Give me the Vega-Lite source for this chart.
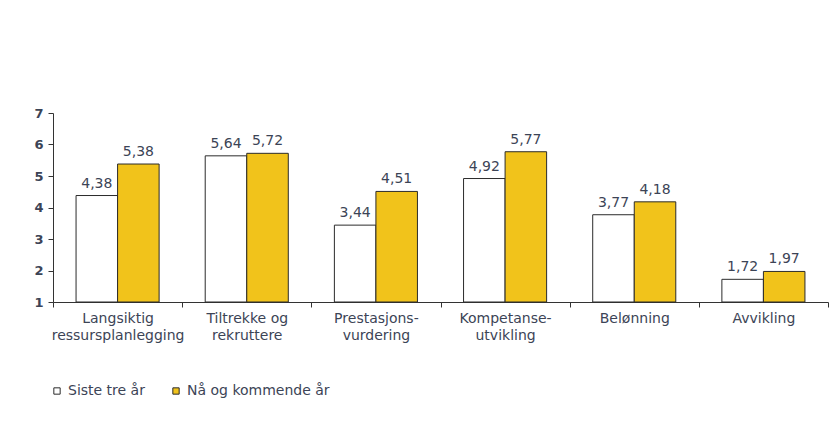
{
  "$schema": "https://vega.github.io/schema/vega-lite/v6.json",
  "width": 775,
  "height": 189,
  "autosize": {"type": "none"},
  "padding": {"left": 53, "top": 113, "right": 8, "bottom": 134},
  "background": "white",
  "config": {
    "locale": {"number": {"decimal": ",", "thousands": " ", "grouping": [3], "currency": ["", " kr"]}},
    "view": {"stroke": null},
    "font": "DejaVu Sans"
  },
  "data": {
    "values": [
      {"kategori": "Langsiktig|ressursplanlegging", "serie": "Siste tre år", "verdi": 4.38},
      {"kategori": "Langsiktig|ressursplanlegging", "serie": "Nå og kommende år", "verdi": 5.38},
      {"kategori": "Tiltrekke og|rekruttere", "serie": "Siste tre år", "verdi": 5.64},
      {"kategori": "Tiltrekke og|rekruttere", "serie": "Nå og kommende år", "verdi": 5.72},
      {"kategori": "Prestasjons-|vurdering", "serie": "Siste tre år", "verdi": 3.44},
      {"kategori": "Prestasjons-|vurdering", "serie": "Nå og kommende år", "verdi": 4.51},
      {"kategori": "Kompetanse-|utvikling", "serie": "Siste tre år", "verdi": 4.92},
      {"kategori": "Kompetanse-|utvikling", "serie": "Nå og kommende år", "verdi": 5.77},
      {"kategori": "Belønning", "serie": "Siste tre år", "verdi": 3.77},
      {"kategori": "Belønning", "serie": "Nå og kommende år", "verdi": 4.18},
      {"kategori": "Avvikling", "serie": "Siste tre år", "verdi": 1.72},
      {"kategori": "Avvikling", "serie": "Nå og kommende år", "verdi": 1.97}
    ]
  },
  "encoding": {
    "x": {
      "field": "kategori",
      "type": "nominal",
      "sort": null,
      "scale": {"paddingInner": 0, "paddingOuter": 0},
      "axis": {
        "title": null,
        "labelExpr": "split(datum.label, '|')",
        "labelAngle": 0,
        "tickBand": "extent",
        "labelFontSize": 14,
        "labelLineHeight": 17,
        "labelPadding": 4,
        "labelOverlap": false,
        "labelBound": false,
        "labelColor": "#3c4456",
        "tickSize": 5,
        "tickColor": "#333333",
        "domainColor": "#333333"
      }
    },
    "xOffset": {
      "field": "serie",
      "type": "nominal",
      "sort": ["Siste tre år", "Nå og kommende år"],
      "scale": {"paddingInner": 0, "paddingOuter": 0.555}
    },
    "y": {
      "field": "verdi",
      "type": "quantitative",
      "scale": {"domain": [1, 7], "nice": false, "zero": false},
      "axis": {
        "title": null,
        "values": [1, 2, 3, 4, 5, 6, 7],
        "grid": false,
        "labelFontSize": 13,
        "labelFontWeight": "bold",
        "labelColor": "#3c4456",
        "labelPadding": 5,
        "tickSize": 5,
        "tickColor": "#333333",
        "domainColor": "#333333"
      }
    }
  },
  "layer": [
    {
      "mark": {"type": "bar", "stroke": "#2b2b2b", "strokeWidth": 1},
      "encoding": {
        "y2": {"datum": 1},
        "fill": {
          "field": "serie",
          "type": "nominal",
          "scale": {"domain": ["Siste tre år", "Nå og kommende år"], "range": ["#ffffff", "#f1c31b"]},
          "legend": {
            "title": null,
            "orient": "none",
            "direction": "horizontal",
            "legendX": -3,
            "legendY": 271,
            "symbolType": "square",
            "symbolSize": 40,
            "symbolStrokeColor": "#2b2b2b",
            "symbolStrokeWidth": 1,
            "labelFontSize": 14,
            "labelColor": "#3c4456",
            "labelOffset": 4,
            "columnPadding": 24
          }
        }
      }
    },
    {
      "mark": {"type": "text", "baseline": "alphabetic", "dy": -8, "fontSize": 14, "color": "#3c4456"},
      "encoding": {
        "text": {"field": "verdi", "type": "quantitative", "format": ".2f"}
      }
    }
  ]
}
